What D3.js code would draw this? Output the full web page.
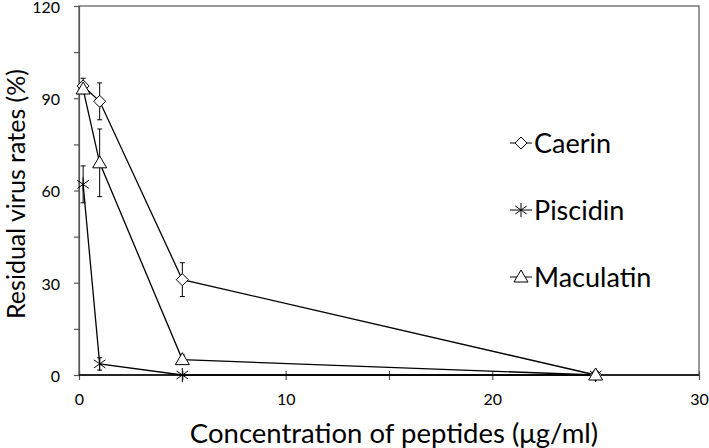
<!DOCTYPE html>
<html>
  <head>
    <meta charset="UTF-8" />
    <title>Residual virus rates</title>
    <style>
      body { margin: 0; background: #fff; }
      text { font-family: Lato, "Open Sans", sans-serif; fill: #000; }
    </style>
  </head>
  <body>
    <svg width="709" height="448"></svg>

    <script src="https://d3js.org/d3.v7.min.js"></script>
    <script>
      // 数据
      const concentrations = [0.2, 1, 5, 25];
      const seriesNames = ["Caerin", "Piscidin", "Maculatin"];
      const caerin = [94, 89, 31, 0];
      const caerinErr = [2.5, 6, 5.5, 0];
      const piscidin = [62, 3.6, 0, 0];
      const piscidinErr = [6, 2, 0, 0];
      const maculatin = [93, 69, 5, 0];
      const maculatinErr = [1.5, 11, 1.5, 0];
      const xTicks = [0, 10, 20, 30];
      const yTicks = [0, 30, 60, 90, 120];

      const series = [
        { name: seriesNames[0], values: caerin, err: caerinErr, symbol: "diamond" },
        { name: seriesNames[1], values: piscidin, err: piscidinErr, symbol: "star" },
        { name: seriesNames[2], values: maculatin, err: maculatinErr, symbol: "triangle" }
      ];

      const svg = d3.select("svg");
      const M_LEFT = 79, M_RIGHT = 699, M_TOP = 6, M_BOTTOM = 375;

      const x = d3.scaleLinear().domain([0, 30]).range([M_LEFT, M_RIGHT]);
      const y = d3.scaleLinear().domain([0, 120]).range([M_BOTTOM, M_TOP]);

      // 边框
      svg.append("rect")
        .attr("x", M_LEFT).attr("y", M_TOP)
        .attr("width", M_RIGHT - M_LEFT).attr("height", M_BOTTOM - M_TOP)
        .attr("fill", "none").attr("stroke", "#555").attr("stroke-width", 1.2);

      // 坐标轴
      const yAxis = svg.append("g").attr("transform", `translate(${M_LEFT},0)`)
        .call(d3.axisLeft(y).tickValues(d3.range(0, 121, 15)).tickSize(5)
          .tickFormat((d) => (yTicks.includes(d) ? d : "")));
      yAxis.selectAll(".domain, line").attr("stroke", "#555").attr("stroke-width", 1.2);
      yAxis.selectAll("text").style("font-size", "16px").attr("dx", "-11").attr("dy", "0.4em");

      const xAxis = svg.append("g").attr("transform", `translate(0,${M_BOTTOM})`)
        .call(d3.axisBottom(x).tickValues(d3.range(0, 31, 5)).tickSize(5)
          .tickFormat((d) => (xTicks.includes(d) ? d : "")));
      xAxis.selectAll(".domain").remove();
      xAxis.selectAll("line").attr("stroke", "#555").attr("stroke-width", 1.2).attr("y1", -4);
      xAxis.selectAll("text").style("font-size", "16px").attr("dy", "1.4em");

      svg.append("line")
        .attr("x1", M_LEFT).attr("x2", M_RIGHT).attr("y1", M_BOTTOM).attr("y2", M_BOTTOM)
        .attr("stroke", "#000").attr("stroke-width", 1.5);

      // 轴标题
      svg.append("text")
        .attr("transform", `translate(25,194) rotate(-90)`)
        .attr("text-anchor", "middle")
        .style("font-size", "25px")
        .text("Residual virus rates (%)");

      svg.append("text")
        .attr("x", 394).attr("y", 443)
        .attr("text-anchor", "middle")
        .style("font-size", "27.5px")
        .text("Concentration of peptides (μg/ml)");

      // 符号
      function drawSymbol(g, kind, cx, cy) {
        if (kind === "diamond") {
          g.append("path")
            .attr("d", `M${cx},${cy - 6}L${cx + 6},${cy}L${cx},${cy + 6}L${cx - 6},${cy}Z`)
            .attr("fill", "#fff").attr("stroke", "#000").attr("stroke-width", 1);
        } else if (kind === "triangle") {
          g.append("path")
            .attr("d", `M${cx},${cy - 7}L${cx + 7},${cy + 5}L${cx - 7},${cy + 5}Z`)
            .attr("fill", "#fff").attr("stroke", "#000").attr("stroke-width", 1);
        } else {
          const r = 7;
          const p = [];
          [0, 55, 125].forEach((a) => {
            const rad = (a * Math.PI) / 180;
            p.push(`M${cx - r * Math.sin(rad)},${cy - r * Math.cos(rad)}L${cx + r * Math.sin(rad)},${cy + r * Math.cos(rad)}`);
          });
          g.append("path").attr("d", p.join("")).attr("stroke", "#000").attr("stroke-width", 1).attr("fill", "none");
        }
      }

      const line = d3.line().x((d) => x(d[0])).y((d) => y(d[1]));
      const plot = svg.append("g");

      series.forEach((s) => {
        const pts = concentrations.map((c, i) => [c, s.values[i], s.err[i]]);
        plot.append("path")
          .datum(pts)
          .attr("d", line)
          .attr("fill", "none").attr("stroke", "#000").attr("stroke-width", 1.3);

        // 误差线
        pts.forEach(([c, v, e]) => {
          if (e <= 0) return;
          const cx = x(c);
          plot.append("line").attr("x1", cx).attr("x2", cx)
            .attr("y1", y(v + e)).attr("y2", y(Math.max(0, v - e)))
            .attr("stroke", "#000").attr("stroke-width", 1);
          [v + e, Math.max(0, v - e)].forEach((ev) => {
            plot.append("line").attr("x1", cx - 2.5).attr("x2", cx + 2.5)
              .attr("y1", y(ev)).attr("y2", y(ev))
              .attr("stroke", "#000").attr("stroke-width", 1);
          });
        });
      });

      series.forEach((s) => {
        concentrations.forEach((c, i) => drawSymbol(plot, s.symbol, x(c), y(s.values[i])));
      });

      // 图例
      const legendY = [143, 210, 277];
      series.forEach((s, i) => {
        const g = svg.append("g");
        g.append("line").attr("x1", 510).attr("x2", 532)
          .attr("y1", legendY[i]).attr("y2", legendY[i])
          .attr("stroke", "#000").attr("stroke-width", 1);
        drawSymbol(g, s.symbol, 521, legendY[i]);
        g.append("text").attr("x", 534).attr("y", legendY[i]).attr("dy", "0.36em")
          .style("font-size", "27px").text(s.name);
      });
    </script>
  </body>
</html>
